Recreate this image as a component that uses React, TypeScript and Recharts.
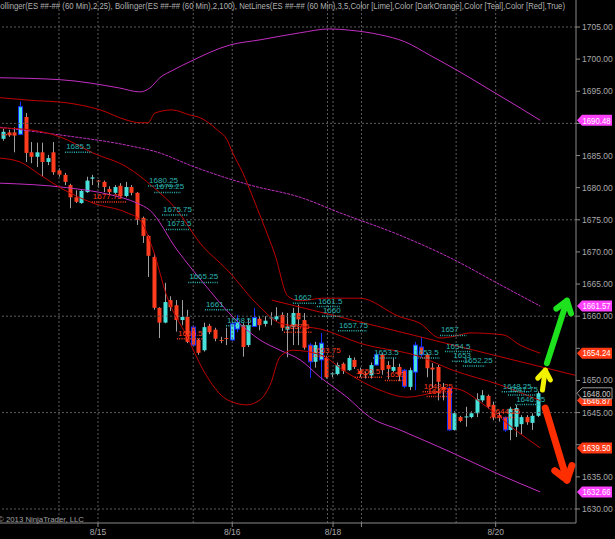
import React from 'react'
import { Bar, ComposedChart, Line, ReferenceLine, XAxis, YAxis } from 'recharts'

const FONT = '"Liberation Sans", Arial, sans-serif'

// 60 min bars
const opens = [
  1687.6, 1688.6, 1688.6, 1688.3, 1691.0, 1685.5, 1684.8, 1685.5, 1684.0, 1685.5,
  1682.7, 1682.0, 1680.4, 1678.5, 1677.6, 1679.3, 1681.4, 1681.1, 1680.9, 1679.8,
  1679.2, 1680.3, 1678.7, 1680.1, 1679.2, 1675.3, 1672.5, 1669.2, 1661.3, 1659.0,
  1662.5, 1661.7, 1659.4, 1659.9, 1658.3, 1656.3, 1654.7, 1658.5, 1657.9, 1656.3,
  1656.6, 1656.3, 1658.0, 1658.6, 1655.5, 1658.4, 1659.6, 1658.8, 1659.7, 1659.5,
  1660.2, 1657.9, 1658.3, 1660.5, 1659.4, 1655.5, 1652.9, 1653.2, 1653.5, 1651.0,
  1651.0, 1652.6, 1651.6, 1653.2, 1651.5, 1651.0, 1650.8, 1652.4, 1654.0, 1652.4,
  1651.5, 1652.1, 1651.6, 1649.0, 1651.3, 1655.2, 1654.0, 1652.0, 1652.1, 1649.0,
  1648.8, 1642.3, 1644.3, 1644.3, 1644.3, 1644.9, 1646.9, 1647.6, 1646.2, 1644.6,
  1644.2, 1642.3, 1642.8, 1643.2, 1644.3, 1643.4, 1644.5,
]
const highs = [
  1689.2, 1689.0, 1689.4, 1693.4, 1691.6, 1687.1, 1687.0, 1687.0, 1685.1, 1687.1,
  1683.0, 1682.3, 1680.6, 1679.6, 1679.7, 1681.7, 1682.0, 1681.2, 1681.1, 1680.2,
  1680.4, 1680.7, 1680.9, 1680.4, 1679.3, 1675.5, 1672.6, 1669.8, 1661.4, 1665.2,
  1663.1, 1662.5, 1662.5, 1661.0, 1658.6, 1656.5, 1659.0, 1658.8, 1658.2, 1656.8,
  1658.2, 1659.0, 1660.2, 1658.9, 1659.7, 1661.3, 1660.0, 1660.0, 1660.6, 1661.4,
  1660.6, 1660.5, 1661.3, 1661.8, 1660.5, 1655.8, 1656.0, 1657.4, 1653.8, 1651.3,
  1652.8, 1652.8, 1653.9, 1653.6, 1652.0, 1651.4, 1652.8, 1654.3, 1654.3, 1653.0,
  1653.5, 1652.6, 1651.8, 1652.0, 1656.0, 1656.8, 1654.3, 1652.7, 1652.4, 1649.6,
  1649.0, 1645.2, 1644.5, 1645.9, 1645.2, 1648.0, 1648.5, 1647.8, 1646.7, 1645.0,
  1644.4, 1645.9, 1646.2, 1644.6, 1644.6, 1644.9, 1648.3,
]
const lows = [
  1687.3, 1687.9, 1685.5, 1688.2, 1684.0, 1683.8, 1683.2, 1681.7, 1683.5, 1682.0,
  1681.7, 1680.4, 1676.8, 1677.6, 1677.5, 1679.2, 1680.4, 1680.0, 1679.3, 1679.0,
  1679.0, 1678.4, 1678.5, 1678.8, 1674.2, 1671.4, 1666.1, 1661.0, 1656.6, 1658.9,
  1660.8, 1657.6, 1658.6, 1655.8, 1655.3, 1654.0, 1654.5, 1657.2, 1656.1, 1655.8,
  1655.5, 1656.2, 1657.5, 1653.7, 1655.2, 1658.3, 1657.8, 1658.4, 1658.6, 1659.2,
  1657.7, 1653.6, 1655.5, 1655.5, 1654.8, 1650.4, 1652.0, 1650.1, 1650.3, 1650.5,
  1650.8, 1651.0, 1651.5, 1651.8, 1650.5, 1650.3, 1650.3, 1652.3, 1650.9, 1650.2,
  1651.3, 1649.9, 1648.8, 1648.5, 1648.5, 1653.5, 1650.5, 1648.8, 1646.9, 1646.9,
  1642.2, 1642.2, 1643.5, 1642.8, 1644.1, 1644.3, 1646.6, 1645.6, 1643.8, 1643.6,
  1642.0, 1640.7, 1641.2, 1641.5, 1643.1, 1642.3, 1644.3,
]
const closes = [
  1688.7, 1688.2, 1688.1, 1692.6, 1685.4, 1684.8, 1685.5, 1684.0, 1684.6, 1682.4,
  1682.0, 1680.9, 1678.5, 1677.8, 1679.5, 1681.1, 1681.6, 1681.0, 1680.1, 1679.3,
  1680.1, 1678.7, 1680.1, 1679.2, 1675.0, 1672.5, 1669.4, 1661.3, 1659.0, 1662.2,
  1661.4, 1659.4, 1659.9, 1656.0, 1655.5, 1654.3, 1658.3, 1657.5, 1656.5, 1656.2,
  1656.5, 1658.8, 1659.0, 1655.2, 1658.6, 1659.8, 1658.6, 1659.3, 1659.8, 1660.0,
  1658.2, 1658.4, 1660.5, 1659.5, 1655.1, 1652.9, 1655.5, 1655.8, 1650.5, 1651.1,
  1652.4, 1651.5, 1653.5, 1652.1, 1651.0, 1650.8, 1652.4, 1654.0, 1651.6, 1651.8,
  1652.1, 1650.8, 1649.1, 1651.6, 1655.5, 1654.0, 1651.9, 1651.7, 1649.8, 1648.5,
  1642.3, 1644.9, 1643.7, 1644.4, 1644.9, 1647.1, 1647.7, 1645.9, 1644.3, 1644.2,
  1642.3, 1645.6, 1645.7, 1644.3, 1643.5, 1644.5, 1648.0,
]
// bars drawn with a blue outline
const marked = [3, 34, 41, 42, 45, 55, 57, 67, 72, 74, 75, 80, 90]

const candles = opens.map((o, i) => ({
  i,
  o,
  h: highs[i],
  l: lows[i],
  c: closes[i],
  hl: marked.includes(i),
}))

// Bollinger(2,25) : [bar index, price]
const bbUpper25 = [
  [-0.6, 1694.0], [4.8, 1693.6], [11.4, 1693.2], [17.4, 1692.1], [22.2, 1690.5],
  [24.5, 1690.1], [26.0, 1690.1], [27.2, 1691.6], [30.3, 1692.1], [33.5, 1691.3],
  [35.0, 1691.0], [38.4, 1689.0], [40.2, 1687.4], [41.2, 1685.4], [43.0, 1682.3],
  [44.8, 1678.5], [46.4, 1675.0], [48.8, 1669.5], [51.1, 1663.1], [53.3, 1662.4],
  [57.4, 1662.8], [64.0, 1662.8], [71.2, 1659.9], [74.8, 1658.9], [78.4, 1656.6],
  [81.1, 1656.9], [83.8, 1657.4], [89.7, 1657.1], [92.8, 1655.5], [96.4, 1654.24],
]
const bbMid25 = [
  [-0.6, 1689.3], [4.8, 1689.0], [10.2, 1687.9], [16.1, 1685.4], [22.2, 1683.2],
  [26.9, 1680.1], [31.2, 1676.5], [35.3, 1671.4], [40.2, 1667.2], [46.1, 1661.4],
  [49.7, 1658.9], [57.4, 1657.9], [64.0, 1655.8], [74.8, 1653.7], [80.7, 1651.6],
  [89.2, 1649.3], [96.4, 1646.87],
]
const bbLower25 = [
  [-0.6, 1684.6], [3.0, 1684.0], [6.6, 1682.0], [10.2, 1680.0], [16.1, 1677.6],
  [22.2, 1676.1], [24.5, 1675.0], [26.9, 1670.3], [29.4, 1663.0], [33.0, 1656.8],
  [35.9, 1651.6], [40.2, 1647.0], [43.7, 1646.2], [46.1, 1647.0], [47.9, 1649.3],
  [49.7, 1653.7], [52.0, 1654.7], [56.9, 1654.0], [61.7, 1651.2], [67.6, 1648.5],
  [72.5, 1647.4], [77.2, 1648.1], [80.7, 1648.8], [86.8, 1645.9], [91.9, 1642.3],
  [96.4, 1639.5],
]
// Bollinger(2,100)
const bbUpper100 = [
  [-0.6, 1697.1], [10.2, 1696.8], [20.9, 1695.5], [24.5, 1694.9], [26.3, 1695.5],
  [28.1, 1697.1], [30.5, 1698.3], [33.5, 1699.6], [40.7, 1702.2], [46.1, 1703.0],
  [53.3, 1704.1], [58.6, 1704.7], [62.2, 1704.5], [67.6, 1703.8], [72.1, 1702.7],
  [76.6, 1700.6], [82.0, 1698.0], [87.4, 1695.2], [92.8, 1692.4], [96.4, 1690.48],
]
const bbMid100 = [
  [-0.6, 1689.4], [10.2, 1688.2], [22.2, 1686.6], [28.1, 1685.4], [33.5, 1683.5],
  [44.3, 1680.4], [53.3, 1678.5], [60.4, 1676.1], [71.2, 1672.6], [80.2, 1669.1],
  [89.2, 1664.9], [96.4, 1661.57],
]
const bbLower100 = [
  [-0.6, 1680.7], [11.4, 1680.0], [19.2, 1678.9], [24.0, 1677.6], [26.3, 1676.5],
  [31.2, 1670.3], [35.9, 1665.2], [41.2, 1659.9], [46.1, 1656.3], [49.7, 1654.7],
  [53.3, 1653.2], [56.9, 1650.5], [61.7, 1647.4], [65.8, 1644.3], [71.2, 1642.3],
  [80.2, 1638.9], [89.2, 1635.3], [96.4, 1632.66],
]
const pts = (arr: number[][]) => arr.map(([i, p]) => ({ i, p }))

// NetLines levels: [from bar, to bar, price, text]
const tealLevels: [number, number, number, string][] = [
  [-0.6, 2.5, 1690.0, ''],
  [11.1, 15.9, 1685.5, '1685.5'],
  [26.0, 31.4, 1680.25, '1680.25'],
  [27.1, 31.9, 1679.25, '1679.25'],
  [28.5, 33.2, 1675.75, '1675.75'],
  [29.2, 33.5, 1673.5, '1673.5'],
  [33.2, 38.5, 1665.25, '1665.25'],
  [36.2, 41.1, 1661.0, '1661'],
  [40.0, 44.7, 1658.5, '1658.5'],
  [52.0, 56.3, 1662.0, '1662'],
  [56.3, 60.4, 1661.5, '1661.5'],
  [57.2, 60.8, 1660.0, '1660'],
  [60.1, 65.3, 1657.75, '1657.75'],
  [66.4, 70.7, 1653.5, '1653.5'],
  [73.6, 78.4, 1653.5, '1653.5'],
  [78.4, 83.2, 1657.0, '1657'],
  [79.3, 84.1, 1654.5, '1654.5'],
  [80.6, 83.8, 1653.0, '1653'],
  [82.5, 86.5, 1652.25, '1652.25'],
  [89.5, 94.6, 1648.25, '1648.25'],
  [90.6, 95.5, 1647.75, '1647.75'],
  [91.9, 96.4, 1646.25, '1646.25'],
]
const redLevels: [number, number, number, string][] = [
  [-0.3, 1.7, 1688.25, ''],
  [15.9, 22.2, 1677.75, '1677.75'],
  [31.2, 35.9, 1656.5, '1656.5'],
  [50.4, 55.4, 1657.5, '1657.5'],
  [55.2, 59.5, 1653.75, '1653.75'],
  [63.1, 68.0, 1650.5, '1650.5'],
  [68.5, 72.0, 1650.0, '1650'],
  [75.3, 80.6, 1648.25, '1648.25'],
  [76.0, 80.6, 1647.5, '1647.5'],
  [87.4, 91.9, 1644.25, '1644.25'],
]

// trend line across the right half
const trendLine = [[48.2, 1662.5], [102.7, 1650.8]]

// hand drawn arrows: tail -> tip
const arrows: { from: number[]; to: number[]; color: string; w: number }[] = [
  { from: [97.6, 1652.7], to: [101.2, 1662.4], color: '#1ee21e', w: 6 },
  { from: [96.8, 1648.5], to: [97.3, 1651.6], color: '#f2f200', w: 5 },
  { from: [97.3, 1645.7], to: [101.2, 1634.5], color: '#ff2e00', w: 7 },
]

// price markers on the right axis
const tags = [
  { v: 1690.48, bg: '#ff40ff', fg: '#ffffff', line: 'none' },
  { v: 1661.57, bg: '#ff40ff', fg: '#ffffff', line: 'none' },
  { v: 1654.24, bg: '#ff3a14', fg: '#ffffff', line: 'none' },
  { v: 1646.87, bg: '#ff3a14', fg: '#ffffff', line: 'none' },
  { v: 1648.0, bg: '#000000', fg: '#d0d0d0', line: '#9a9a9a' },
  { v: 1639.5, bg: '#ff3a14', fg: '#ffffff', line: 'none' },
  { v: 1632.66, bg: '#ff40ff', fg: '#ffffff', line: 'none' },
]

const priceTicks = [1630, 1635, 1640, 1645, 1650, 1655, 1660, 1665, 1670, 1675, 1680, 1685, 1690, 1695, 1700, 1705]
const gridPrices = [1630, 1645, 1660, 1675, 1690, 1705]
const sessionLines = [10.0, 34.1, 58.2, 64.3, 81.3]
const dateTicks = [17.0, 41.1, 59.2, 64.3, 88.4]
const dateLabels = ['8/15', '8/16', '8/18', '', '8/20']

const UP = '#48e0da'
const DOWN = '#ff3c1e'
const WICK = '#a0a0a0'
const MARK = '#1530ff'

const Candle = (props: any) => {
  const { x, y, width, height, payload } = props
  const { o, h, l, c, hl } = payload
  const k = height / (h - l)
  const cx = Math.round(x + width / 2) + 0.5
  const yO = y + (h - o) * k
  const yC = y + (h - c) * k
  const top = Math.min(yO, yC)
  const bh = Math.max(Math.abs(yC - yO), 1)
  const fill = c >= o ? UP : DOWN
  return (
    <g>
      <line x1={cx} x2={cx} y1={y} y2={y + height} stroke={hl ? MARK : WICK} strokeWidth={1} />
      <rect
        x={cx - 2}
        y={top}
        width={4}
        height={bh}
        fill={fill}
        stroke={hl ? MARK : 'none'}
        strokeWidth={hl ? 1 : 0}
      />
    </g>
  )
}

const levelShape = (text: string, color: string) => (p: any) => (
  <g>
    <line
      x1={p.x1}
      x2={p.x2}
      y1={p.y1}
      y2={p.y2}
      stroke={color}
      strokeWidth={1.5}
      strokeDasharray="1 1.2"
    />
    {text && (
      <text x={Math.min(p.x1, p.x2) + 1} y={p.y1 - 3} fill={color} fontSize={8} fontFamily={FONT}>
        {text}
      </text>
    )}
  </g>
)

const arrowShape = (color: string, w: number) => (p: any) => {
  const dx = p.x2 - p.x1
  const dy = p.y2 - p.y1
  const len = Math.sqrt(dx * dx + dy * dy)
  const ux = dx / len
  const uy = dy / len
  const head = w * 2.2
  const a = 0.62
  const w1x = p.x2 - head * (ux * Math.cos(a) - uy * Math.sin(a))
  const w1y = p.y2 - head * (uy * Math.cos(a) + ux * Math.sin(a))
  const w2x = p.x2 - head * (ux * Math.cos(a) + uy * Math.sin(a))
  const w2y = p.y2 - head * (uy * Math.cos(a) - ux * Math.sin(a))
  return (
    <g stroke={color} strokeWidth={w} strokeLinecap="round" strokeLinejoin="round" fill="none">
      <line x1={p.x1} y1={p.y1} x2={p.x2} y2={p.y2} />
      <polyline points={`${w1x},${w1y} ${p.x2},${p.y2} ${w2x},${w2y}`} />
    </g>
  )
}

const tagShape = (v: number, bg: string, fg: string, line: string) => (p: any) => {
  const x0 = Math.max(p.x1, p.x2)
  const y = p.y1
  return (
    <g>
      <polygon
        points={`${x0 + 1},${y} ${x0 + 6},${y - 5.5} ${x0 + 36},${y - 5.5} ${x0 + 36},${y + 5.5} ${x0 + 6},${y + 5.5}`}
        fill={bg}
        stroke={line}
      />
      <text
        x={x0 + 6.5}
        y={y + 3.2}
        fill={fg}
        fontSize={8.5}
        fontFamily={FONT}
        textLength={28}
        lengthAdjust="spacingAndGlyphs"
      >
        {v.toFixed(2)}
      </text>
    </g>
  )
}

// price labels that sit under a marker are not shown
const PriceTick = (props: any) => {
  const { x, y, payload } = props
  const v = payload.value
  if (tags.some((t) => Math.abs(t.v - v) < 1)) return <g />
  return (
    <text x={x} y={y} dy="0.355em" fill="#a8a8a8" fontSize={8.5} fontFamily={FONT} textAnchor="start">
      {v.toFixed(2)}
    </text>
  )
}

const bandProps = { type: 'monotone' as const, strokeWidth: 1, dot: false, activeDot: false, isAnimationActive: false }

export default function App() {
  return (
    <div style={{ position: 'absolute', left: 0, top: 0, width: 615, height: 539, background: '#000', overflow: 'hidden' }}>
      <ComposedChart
        width={615}
        height={539}
        data={candles}
        margin={{ top: 0, right: 0, bottom: 0, left: 0 }}
      >
        <XAxis
          type="number"
          dataKey="i"
          domain={[-0.593, 102.82]}
          allowDataOverflow
          ticks={dateTicks}
          interval={0}
          tickFormatter={(v: number) => dateLabels[dateTicks.indexOf(v)] ?? ''}
          height={16}
          tickSize={4}
          tickMargin={2}
          stroke="#8a8a8a"
          tick={{ fill: '#a8a8a8', fontSize: 8.5, fontFamily: FONT }}
        />
        <YAxis
          orientation="right"
          type="number"
          domain={[1627.82, 1709.2]}
          allowDataOverflow
          ticks={priceTicks}
          interval={0}
          width={39}
          tickSize={4}
          tickMargin={2}
          stroke="#8a8a8a"
          tick={PriceTick}
        />
        {gridPrices.map((v) => (
          <ReferenceLine key={`gy${v}`} y={v} stroke="#5c5c5c" strokeDasharray="2 2" />
        ))}
        {sessionLines.concat(dateTicks.filter((d) => !sessionLines.includes(d))).map((v) => (
          <ReferenceLine key={`gx${v}`} x={v} stroke="#5c5c5c" strokeDasharray="2 2" />
        ))}

        <Line data={pts(bbUpper100)} dataKey="p" stroke="#c22fc2" {...bandProps} />
        <Line data={pts(bbMid100)} dataKey="p" stroke="#c22fc2" strokeDasharray="3 1" {...bandProps} />
        <Line data={pts(bbLower100)} dataKey="p" stroke="#c22fc2" {...bandProps} />
        <Line data={pts(bbUpper25)} dataKey="p" stroke="#c00000" {...bandProps} />
        <Line data={pts(bbMid25)} dataKey="p" stroke="#c00000" {...bandProps} />
        <Line data={pts(bbLower25)} dataKey="p" stroke="#c00000" {...bandProps} />

        <ReferenceLine
          segment={[{ x: trendLine[0][0], y: trendLine[0][1] }, { x: trendLine[1][0], y: trendLine[1][1] }]}
          stroke="#c00000"
          strokeWidth={1}
        />

        <Bar dataKey={(d: any) => [d.l, d.h]} barSize={4} shape={Candle} isAnimationActive={false} />

        {tealLevels.map(([a, b, v, t], k) => (
          <ReferenceLine key={`t${k}`} segment={[{ x: a, y: v }, { x: b, y: v }]} shape={levelShape(t, '#2bb5b0')} />
        ))}
        {redLevels.map(([a, b, v, t], k) => (
          <ReferenceLine key={`r${k}`} segment={[{ x: a, y: v }, { x: b, y: v }]} shape={levelShape(t, '#ff3a1e')} />
        ))}
        {arrows.map((ar, k) => (
          <ReferenceLine
            key={`a${k}`}
            segment={[{ x: ar.from[0], y: ar.from[1] }, { x: ar.to[0], y: ar.to[1] }]}
            shape={arrowShape(ar.color, ar.w)}
          />
        ))}
        {tags.map((t) => (
          <ReferenceLine key={`tag${t.v}`} y={t.v} zIndex={2000} shape={tagShape(t.v, t.bg, t.fg, t.line)} />
        ))}
      </ComposedChart>
      <svg width={615} height={539} style={{ position: 'absolute', left: 0, top: 0, pointerEvents: 'none' }}>
        <text x={-5} y={9} fontSize={8.5} fill="#b0b0b0" fontFamily={FONT} textLength={570} lengthAdjust="spacingAndGlyphs">
          Bollinger(ES ##-## (60 Min),2,25), Bollinger(ES ##-## (60 Min),2,100), NetLines(ES ##-## (60 Min),3,5,Color [Lime],Color [DarkOrange],Color [Teal],Color [Red],True)
        </text>
        <text x={-2} y={522} fontSize={8} fill="#a0a0a0" fontFamily={FONT} textLength={86} lengthAdjust="spacingAndGlyphs">
          © 2013 NinjaTrader, LLC
        </text>
      </svg>
    </div>
  )
}
